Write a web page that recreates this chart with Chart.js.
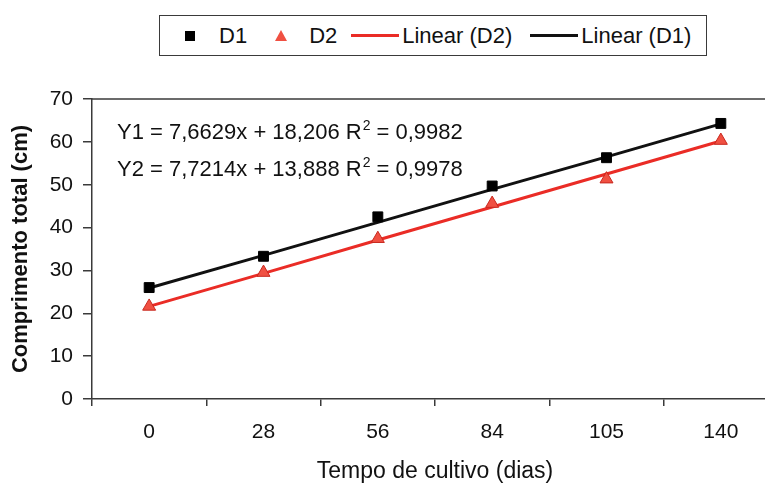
<!DOCTYPE html>
<html>
<head>
<meta charset="utf-8">
<script src="https://cdn.jsdelivr.net/npm/chart.js@4.4.0/dist/chart.umd.min.js"></script>
<style>
	html, body { margin: 0; padding: 0; background: #fff; overflow: hidden; width: 765px; height: 485px; }
	#wrap { position: relative; width: 765px; height: 485px; overflow: hidden; }
	#grafico { position: absolute; left: 0; top: 0; }
	#legenda {
		position: absolute; left: 159px; top: 15px; width: 548px; height: 41px;
		box-sizing: border-box; border: 1.5px solid #3a3a3a; background: #fff;
		display: flex; align-items: center; padding-left: 25px;
		font: 22px "Liberation Sans", Arial, sans-serif; color: #111;
	}
	.item { display: flex; align-items: center; white-space: nowrap; }
	.item:nth-child(1) { margin-right: 28px; }
	.item:nth-child(1) .icone { margin-right: 24px; }
	.item:nth-child(2) { margin-right: 14px; }
	.item:nth-child(2) .icone { margin-right: 22px; }
	.item:nth-child(3) { margin-right: 18px; }
	.item.linha .icone { margin-right: 3px; }
</style>
</head>
<body>
<div id="wrap">
	<canvas id="grafico" width="790" height="485"></canvas>
	<div id="legenda"></div>
</div>
<script>
// Dados
const dias = ['0', '28', '56', '84', '105', '140'];
const d1 = [26.0, 33.3, 42.5, 49.7, 56.3, 64.3];
const d2 = [21.6, 29.5, 37.4, 45.6, 51.3, 60.3];
const linearD1 = [25.9, 33.5, 41.2, 48.9, 56.5, 64.2];
const linearD2 = [21.6, 29.3, 37.1, 44.8, 52.5, 60.2];

const equacoes = [
	['Y1 = 7,6629x + 18,206 R', '2', ' = 0,9982'],
	['Y2 = 7,7214x + 13,888 R', '2', ' = 0,9978']
];

const fonte = '"Liberation Sans", Arial, sans-serif';
const vermelho = 'rgb(234,44,38)';

// legenda em HTML montada a partir dos datasets
const htmlLegend = {
	id: 'htmlLegend',
	afterUpdate(chart) {
		const box = document.getElementById('legenda');
		box.innerHTML = '';
		chart.data.datasets.forEach(ds => {
			const item = document.createElement('div');
			const icone = document.createElement('span');
			icone.className = 'icone';
			if (ds.showLine === false) {
				item.className = 'item marca';
				if (ds.pointStyle === 'triangle') {
					icone.style.cssText = 'width:0;height:0;border-left:6.5px solid transparent;border-right:6.5px solid transparent;border-bottom:11px solid ' + ds.pointBackgroundColor + ';';
				} else {
					icone.style.cssText = 'width:10px;height:10px;background:' + ds.pointBackgroundColor + ';';
				}
			} else {
				item.className = 'item linha';
				icone.style.cssText = 'width:48px;height:3px;background:' + ds.borderColor + ';';
			}
			const txt = document.createElement('span');
			txt.textContent = ds.label;
			item.appendChild(icone);
			item.appendChild(txt);
			box.appendChild(item);
		});
	}
};

// moldura superior da área do gráfico
const moldura = {
	id: 'moldura',
	beforeDatasetsDraw(chart) {
		const { ctx, chartArea } = chart;
		ctx.save();
		ctx.strokeStyle = '#3a3a3a';
		ctx.lineWidth = 1.5;
		ctx.beginPath();
		ctx.moveTo(chartArea.left, chartArea.top);
		ctx.lineTo(chartArea.right, chartArea.top);
		ctx.stroke();
		ctx.restore();
	}
};

// equações das retas
const textoEquacoes = {
	id: 'textoEquacoes',
	afterDatasetsDraw(chart) {
		const { ctx, chartArea } = chart;
		ctx.save();
		ctx.fillStyle = '#111';
		ctx.textBaseline = 'alphabetic';
		equacoes.forEach((eq, i) => {
			let x = chartArea.left + 25;
			const y = chartArea.top + 40 + i * 37;
			ctx.font = '22px ' + fonte;
			ctx.fillText(eq[0], x, y);
			x += ctx.measureText(eq[0]).width;
			ctx.font = '14px ' + fonte;
			ctx.fillText(eq[1], x + 1, y - 9);
			x += ctx.measureText(eq[1]).width + 1;
			ctx.font = '22px ' + fonte;
			ctx.fillText(eq[2], x, y);
		});
		ctx.restore();
	}
};

const chart = new Chart(document.getElementById('grafico'), {
	type: 'line',
	data: {
		labels: dias,
		datasets: [
			{
				label: 'D1',
				data: d1,
				showLine: false,
				pointStyle: 'rect',
				pointRadius: 7,
				pointBackgroundColor: '#000',
				pointBorderColor: '#000',
				pointBorderWidth: 1
			},
			{
				label: 'D2',
				data: d2,
				showLine: false,
				pointStyle: 'triangle',
				pointRadius: 7.5,
				pointBackgroundColor: 'rgb(240,80,66)',
				pointBorderColor: 'rgb(200,40,30)',
				pointBorderWidth: 1
			},
			{
				label: 'Linear (D2)',
				data: linearD2,
				borderColor: vermelho,
				borderWidth: 3,
				pointRadius: 0,
				tension: 0
			},
			{
				label: 'Linear (D1)',
				data: linearD1,
				borderColor: '#111',
				borderWidth: 3,
				pointRadius: 0,
				tension: 0
			}
		]
	},
	options: {
		responsive: false,
		animation: false,
		layout: { padding: { top: 99, right: 12, left: 0, bottom: 0 } },
		plugins: {
			legend: { display: false },
			tooltip: { enabled: false }
		},
		scales: {
			x: {
				type: 'category',
				offset: true,
				grid: { display: true, drawOnChartArea: false, offset: true, tickLength: 7, color: '#3a3a3a', lineWidth: 1.5 },
				border: { color: '#3a3a3a', width: 1.5 },
				ticks: { color: '#111', font: { family: fonte, size: 21 }, padding: 14 },
				title: { display: true, text: 'Tempo de cultivo (dias)', color: '#111', font: { family: fonte, size: 23 }, padding: { top: 2, bottom: 0 } },
				afterFit: (scale) => { scale.height = 86; }
			},
			y: {
				min: 0,
				max: 70,
				grid: { display: true, drawOnChartArea: false, tickLength: 9, color: '#3a3a3a', lineWidth: 1.5 },
				border: { color: '#3a3a3a', width: 1.5 },
				ticks: { stepSize: 10, color: '#111', font: { family: fonte, size: 21 }, padding: 10 },
				title: { display: true, text: 'Comprimento total (cm)', color: '#111', font: { family: fonte, size: 22, weight: 'bold' }, padding: { top: 8, bottom: 0 } },
				afterFit: (scale) => { scale.width = 92; }
			}
		}
	},
	plugins: [htmlLegend, moldura, textoEquacoes]
});
</script>
</body>
</html>
